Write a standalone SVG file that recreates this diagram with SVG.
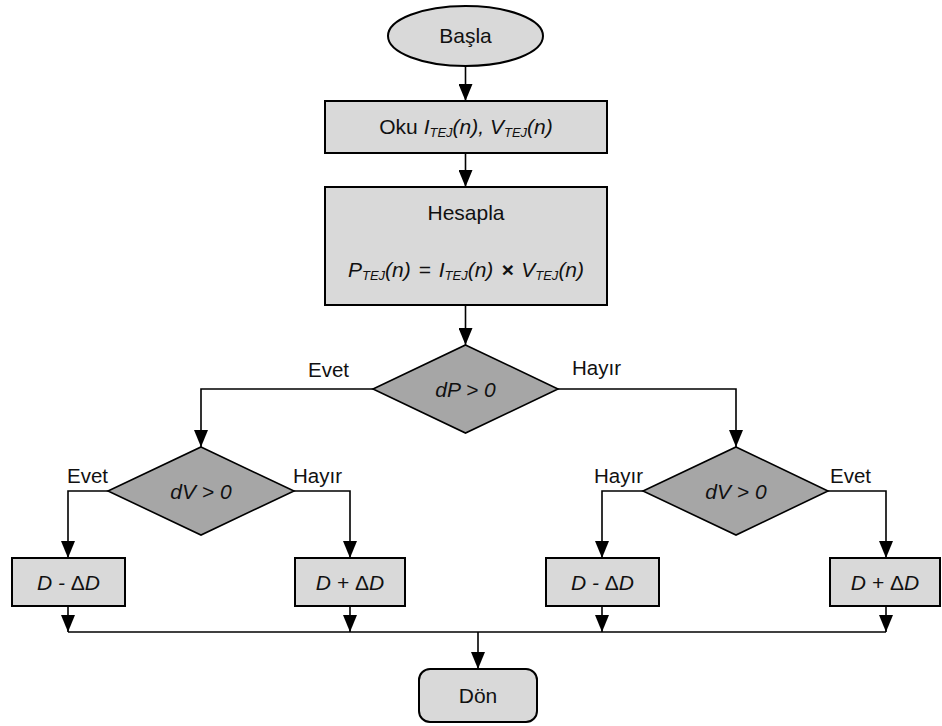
<svg xmlns="http://www.w3.org/2000/svg" width="942" height="726" viewBox="0 0 942 726">
<defs>
<marker id="ah" markerUnits="userSpaceOnUse" markerWidth="17" markerHeight="14" viewBox="0 0 17 14" refX="17" refY="7" orient="auto">
<path d="M0,0 L17,7 L0,14 Z" fill="#000"/>
</marker>
<style>
.t{font-family:"Liberation Sans",Arial,sans-serif;font-size:21px;fill:#111;text-anchor:middle}
.i{font-style:italic}
.s{font-size:13px;font-style:italic}
.box{fill:#d9d9d9;stroke:#000;stroke-width:2}
.dia{fill:#a6a6a6;stroke:#000;stroke-width:1.6}
.ln{fill:none;stroke:#000;stroke-width:1.6}
.arr{fill:none;stroke:#000;stroke-width:1.6;marker-end:url(#ah)}
.lbl{font-family:"Liberation Sans",Arial,sans-serif;font-size:20.5px;fill:#111}
</style>
</defs>
<rect width="942" height="726" fill="#fff"/>

<g id="connectors">
<line class="arr" x1="465.5" y1="66" x2="465.5" y2="101"/>
<line class="arr" x1="465.5" y1="153" x2="465.5" y2="187"/>
<line class="arr" x1="465.5" y1="305" x2="465.5" y2="345"/>
<polyline class="arr" points="373,389 201,389 201,447"/>
<polyline class="arr" points="558,389 736,389 736,447"/>
<polyline class="arr" points="108,491 68,491 68,558"/>
<polyline class="arr" points="294,491 350,491 350,558"/>
<polyline class="arr" points="643,491 602,491 602,558"/>
<polyline class="arr" points="828,491 886,491 886,558"/>
<line class="arr" x1="68" y1="606" x2="68" y2="632"/>
<line class="arr" x1="350" y1="606" x2="350" y2="632"/>
<line class="arr" x1="602" y1="606" x2="602" y2="632"/>
<line class="arr" x1="886" y1="606" x2="886" y2="632"/>
<line class="ln" x1="68" y1="632" x2="886" y2="632"/>
<line class="arr" x1="478" y1="632" x2="478" y2="669"/>
<text class="lbl" x="349" y="377" text-anchor="end">Evet</text>
<text class="lbl" x="572" y="375">Hayır</text>
<text class="lbl" x="67" y="483">Evet</text>
<text class="lbl" x="293" y="483">Hayır</text>
<text class="lbl" x="594" y="483">Hayır</text>
<text class="lbl" x="830" y="483">Evet</text>
</g>

<g id="start">
<ellipse class="box" cx="465.5" cy="36" rx="77.5" ry="30" stroke-width="1.6"/>
<text class="t" x="465.5" y="43">Başla</text>
</g>

<g id="read">
<rect class="box" x="325" y="101" width="282" height="52"/>
<text class="t" x="466" y="134">Oku <tspan class="i">I</tspan><tspan class="s" dy="3">TEJ</tspan><tspan class="i" dy="-3">(n), V</tspan><tspan class="s" dy="3">TEJ</tspan><tspan class="i" dy="-3">(n)</tspan></text>
</g>

<g id="compute">
<rect class="box" x="325" y="187" width="282" height="118"/>
<text class="t" x="466" y="220">Hesapla</text>
<text class="t i" x="466" y="277" word-spacing="2">P<tspan class="s" dy="3">TEJ</tspan><tspan dy="-3">(n) = I</tspan><tspan class="s" dy="3">TEJ</tspan><tspan dy="-3">(n) <tspan font-weight="bold">×</tspan> V</tspan><tspan class="s" dy="3">TEJ</tspan><tspan dy="-3">(n)</tspan></text>
</g>

<g id="dP">
<polygon class="dia" points="465.5,345 558,389 465.5,433 373,389"/>
<text class="t i" x="465.5" y="397">dP &gt; 0</text>
</g>

<g id="dV-left">
<polygon class="dia" points="201,447 294,491 201,535 108,491"/>
<text class="t i" x="201" y="499">dV &gt; 0</text>
</g>

<g id="dV-right">
<polygon class="dia" points="736,447 828,491 736,535 643,491"/>
<text class="t i" x="736" y="499">dV &gt; 0</text>
</g>

<g id="dec-1">
<rect class="box" x="12" y="558" width="113" height="48"/>
<text class="t i" x="68.5" y="590">D - <tspan font-style="normal">Δ</tspan>D</text>
</g>

<g id="inc-1">
<rect class="box" x="295" y="558" width="110" height="48"/>
<text class="t i" x="350" y="590">D + <tspan font-style="normal">Δ</tspan>D</text>
</g>

<g id="dec-2">
<rect class="box" x="546" y="558" width="113" height="48"/>
<text class="t i" x="602.5" y="590">D - <tspan font-style="normal">Δ</tspan>D</text>
</g>

<g id="inc-2">
<rect class="box" x="830" y="558" width="110" height="48"/>
<text class="t i" x="885" y="590">D + <tspan font-style="normal">Δ</tspan>D</text>
</g>

<g id="return">
<rect class="box" x="419" y="669" width="118" height="53" rx="11"/>
<text class="t" x="478" y="703">Dön</text>
</g>
</svg>
